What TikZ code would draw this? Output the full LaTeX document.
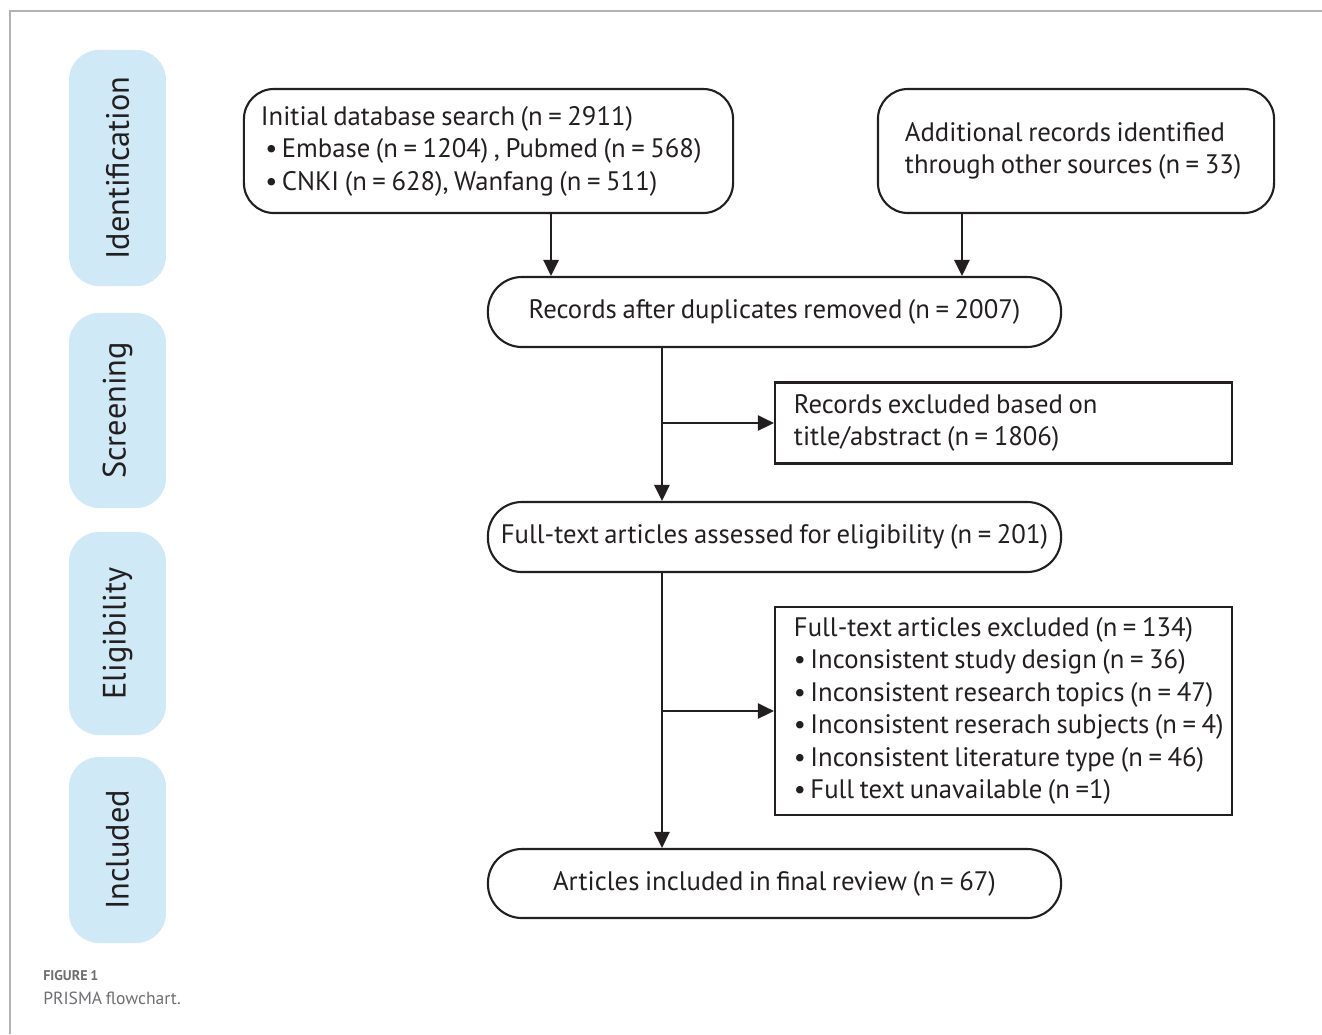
\documentclass[tikz,border=0pt]{standalone}
\usepackage{fontspec}
\setmainfont[WordSpace=0.78]{PT Sans}
\usetikzlibrary{arrows.meta,calc}
\definecolor{ink}{HTML}{231F20}
\definecolor{band}{HTML}{CFE9F6}
\definecolor{capgray}{HTML}{6D6E71}
\newcommand{\bul}[1]{\mbox{\textbullet\,#1}}
\tikzstyle{boxtext} = [font=\fontsize{19}{23.1}\selectfont, text=ink]
\tikzstyle{stagebox} = [fill=band, rounded corners=0.75cm, minimum width=2.425cm, inner sep=0pt,
  font=\fontsize{23}{27}\selectfont, text=ink]
\tikzstyle{roundbox} = [draw=ink, line width=1.5pt, rounded corners=0.75cm, boxtext, align=flush left,
  minimum height=3.1cm, inner ysep=0pt]
\tikzstyle{pillbox} = [draw=ink, line width=1.5pt, rounded corners=0.85cm, boxtext,
  minimum width=14.325cm, minimum height=1.75cm, inner sep=0pt]
\tikzstyle{exclbox} = [draw=ink, line width=1.5pt, boxtext, align=flush left, inner ysep=0pt,
  inner xsep=0.475cm, text width=10.475cm]
\tikzstyle{flow} = [style={-{Triangle[length=0.4cm,width=0.38cm]},draw=ink,line width=1.5pt}]

\begin{document}
\begin{tikzpicture}[x=0.025cm,y=-0.025cm]
    \useasboundingbox (0,0) rectangle (1322,1034);
    \draw[gray!60, line width=0.8pt] (10,1034) -- (10,11) -- (1322,11);
    % stages
    \node[stagebox, minimum height=5.9cm] (ident) at (117.5,168) {};
    \node[rotate=90, text=ink, font=\fontsize{23}{27}\selectfont] at (ident) {Identification};
    \node[stagebox, minimum height=4.875cm] (screen) at (117.5,410.5) {};
    \node[rotate=90, text=ink, font=\fontsize{23}{27}\selectfont] at (screen) {Screening};
    \node[stagebox, minimum height=5.075cm] (elig) at (117.5,633.5) {};
    \node[rotate=90, text=ink, font=\fontsize{23}{27}\selectfont] at (elig) {Eligibility};
    \node[stagebox, minimum height=4.65cm] (incl) at (117.5,850) {};
    \node[rotate=90, text=ink, font=\fontsize{23}{27}\selectfont] at (incl) {Included};
    % boxes
    \node[roundbox, inner xsep=0.425cm, text width=11.375cm] (search) at (488.5,151)
      {Initial database search (n = 2911)\\
       \,\bul{Embase (n = 1204) , Pubmed (n = 568)}\\
       \,\bul{CNKI (n = 628), Wanfang (n = 511)}};
    \node[roundbox, inner xsep=0.675cm, text width=8.55cm] (other) at (1076,151)
      {Additional records identified\\ \mbox{through other sources (n = 33)}};
    \node[pillbox] (dedup) at (774.5,312) {Records after duplicates removed (n = 2007)};
    \node[exclbox, minimum height=2.025cm] (excla) at (1003.5,423)
      {Records excluded based on\\ title/abstract (n = 1806)};
    \node[pillbox] (fulltext) at (774.5,537) {Full-text articles assessed for eligibility (n = 201)};
    \node[exclbox, minimum height=5.2cm] (exclb) at (1003.5,711)
      {Full-text articles excluded (n = 134)\\
       \bul{Inconsistent study design (n = 36)}\\
       \bul{Inconsistent research topics (n = 47)}\\
       \bul{Inconsistent reserach subjects (n = 4)}\\
       \bul{Inconsistent literature type (n = 46)}\\
       \bul{Full text unavailable (n =1)}};
    \node[pillbox, minimum height=1.725cm] (final) at (774.5,883.5) {Articles included in final review (n = 67)};
    % connectors
    \coordinate (sa) at ([xshift=1.5625cm]search.south);
    \coordinate (oa) at ([xshift=-2.85cm]other.south);
    \coordinate (ta) at ([xshift=-2.8125cm]dedup.south);
    \coordinate (tb) at ([xshift=-2.8125cm]fulltext.south);
    \draw[flow] (sa) -- (sa |- dedup.north);
    \draw[flow] (oa) -- (oa |- dedup.north);
    \draw[flow] (ta) -- (ta |- fulltext.north);
    \draw[flow] (excla.west -| ta) -- (excla.west);
    \draw[flow] (tb) -- (tb |- final.north);
    \draw[flow] (exclb.west -| tb) -- (exclb.west);
    % caption
    \node[anchor=base west, inner sep=0pt, text=capgray, font=\fontsize{10}{12}\selectfont\bfseries] (fig) at (43,980) {FIGURE 1};
    \node[anchor=base west, inner sep=0pt, text=capgray, font=\fontsize{12.5}{15}\selectfont] (cap) at (43,1004) {PRISMA flowchart.};
\end{tikzpicture}
\end{document}
